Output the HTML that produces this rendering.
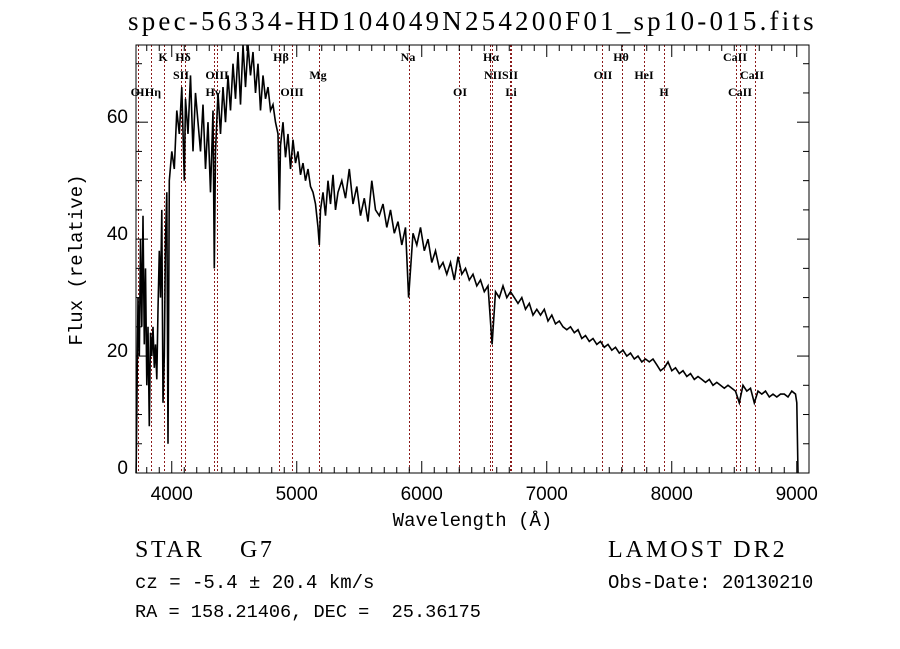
<!DOCTYPE html>
<html><head><meta charset="utf-8"><style>
body{margin:0;background:#fff;width:900px;height:649px;overflow:hidden}
svg{display:block}
.ser{font-family:"Liberation Serif",serif}
.mono{font-family:"Liberation Mono",monospace}
.sans{font-family:"Liberation Sans",sans-serif}
</style></head><body>
<svg id="chart" width="900" height="649"></svg>
<script>
const waves=[3715,3720,3730,3740,3750,3760,3770,3780,3790,3800,3810,3820,3830,3840,3850,3860,3870,3880,3890,3900,3910,3920,3930,3940,3950,3960,3970,3980,4000,4020,4040,4060,4080,4100,4110,4130,4150,4170,4190,4210,4230,4250,4270,4290,4310,4330,4340,4350,4370,4390,4410,4430,4450,4470,4490,4510,4530,4550,4570,4590,4610,4630,4650,4670,4690,4710,4730,4750,4770,4790,4810,4830,4850,4861,4870,4890,4910,4930,4950,4970,4990,5010,5030,5050,5070,5090,5110,5130,5150,5170,5180,5190,5210,5230,5250,5270,5290,5310,5330,
5360,5390,5420,5450,5480,5510,5540,5570,5600,5630,5660,5690,5720,5750,5780,5810,5840,5870,5895,5930,5960,5990,6020,6050,6080,6110,6140,6170,6200,6230,6260,6290,6320,6350,6380,6410,6440,6470,6500,6530,6563,6590,6620,6650,6680,6710,6740,6770,6800,6830,6860,6890,6920,6950,6980,7010,7040,7070,7100,7130,7160,7190,7220,7250,7280,7310,7340,7370,7400,7430,7460,7490,7520,7550,7580,7610,7640,7670,7700,7730,7760,7790,7820,7850,7880,7910,7940,7970,8000,8030,8060,8090,8120,8150,8180,8210,8240,8270,8300,8330,8360,8390,8420,8450,8480,8510,8540,8570,8600,8630,8660,8690,8720,8750,8780,8810,8840,8870,8900,8930,8960,8990,9000,9010];
const flux=[0,10,30,20,40,25,44,22,35,15,25,8,24,20,25,18,22,16,28,38,30,45,12,20,40,48,5,50,55,52,62,58,66,50,64,58,68,55,65,60,55,63,52,60,48,62,35,55,65,58,66,60,68,62,70,64,72,63,74,66,75,68,72,65,70,62,68,64,66,62,63,60,58,45,56,60,54,58,52,57,53,55,51,53,50,52,49,48,46,42,39,45,48,44,50,46,51,45,48,
50,47,52,46,49,44,47,43,50,45,44,46,42,45,41,43,39,42,30,41,39,42,38,40,36,38,35,36,34,36,33,37,34,35,33,34,32,33,31,32,22,31,30,32,30,31,30,29,30,28,29,27,28,27,28,26,27,25.5,26,25,24.5,25,24,24.5,23,23.5,22.5,23,22,22.5,21.5,22,21,21.5,20.5,21,20,20.5,19.5,20,19,19.5,19,19.5,18.5,17.5,18,19,17.5,18,17,17.5,16.5,17,16,16.5,16,15.5,16,15,15.5,15,14.5,15,14.5,14,12,15,14,14.5,12,14,13.5,14,13,13.5,13,13.5,13.5,13,14,13.5,12,0];
const lineWaves=[3727,3835,3934,4072,4102,4341,4363,4861,4959,5175,5894,6300,6548,6563,6707,6717,7444,7604,7780,7935,8510,8546,8666];
const labelText=["K","Hδ","Hβ","Na","Hα","Hθ","CaII","SII","OIII","Mg","NIISII","OII","HeI","CaII","OII","Hη","Hγ","OIII","OI","Li","H","CaII"];
const labelX=[163,183,281,408,491,621,735,181,217,318,501,603,644,752,140,153,213,292,460,511,664,740];
const labelRow=[0,0,0,0,0,0,0,1,1,1,1,1,1,1,2,2,2,2,2,2,2,2];
const xTicks=[4000,5000,6000,7000,8000,9000];
const yTicks=[0,20,40,60];

const L=136,R=809,T=45,B=473,XMIN=3714,XMAX=9098,YMIN=0,YMAX=73.2;
const sx=w=>L+(w-XMIN)/(XMAX-XMIN)*(R-L);
const sy=v=>B-(v-YMIN)/(YMAX-YMIN)*(B-T);
const svg=document.getElementById('chart');
const NS='http://www.w3.org/2000/svg';
function mk(tag,attrs,parent){const e=document.createElementNS(NS,tag);for(const k in attrs)e.setAttribute(k,attrs[k]);(parent||svg).appendChild(e);return e;}

lineWaves.forEach(w=>{const x=Math.round(sx(w))+0.5;const l=mk('line',{x1:x,x2:x,y1:T,y2:B,stroke:'#8b1a1a','stroke-width':1,'stroke-dasharray':'2,2'});

});
let d='';waves.forEach((w,i)=>{const y=Math.max(T,sy(flux[i]));d+=(i?'L':'M')+sx(w).toFixed(1)+','+y.toFixed(1);});
const p=mk('path',{d:d,fill:'none',stroke:'#000','stroke-width':1.6,'stroke-linejoin':'miter'});


const fr=mk('rect',{x:L,y:T,width:R-L,height:B-T,fill:'none',stroke:'#000','stroke-width':1});


for(let w=3800;w<=9000;w+=100){const maj=w%1000===0;const len=maj?12:6;
mk('line',{x1:sx(w),x2:sx(w),y1:B,y2:B-len,stroke:'#000'});mk('line',{x1:sx(w),x2:sx(w),y1:T,y2:T+len,stroke:'#000'});}
xTicks.forEach(w=>{const t=mk('text',{x:sx(w),y:B+27,'text-anchor':'middle','font-size':19,class:'sans'});t.textContent=w;

});
for(let v=0;v<=70;v+=5){const maj=v%20===0;const len=maj?12:6;
mk('line',{x1:L,x2:L+len,y1:sy(v),y2:sy(v),stroke:'#000'});mk('line',{x1:R,x2:R-len,y1:sy(v),y2:sy(v),stroke:'#000'});}
yTicks.forEach(v=>{const t=mk('text',{x:L-8,y:sy(v)+1,'text-anchor':'end','font-size':19,class:'sans'});t.textContent=v;

});
const rowsY=[61,79,96];
labelText.forEach((s,i)=>{const t=mk('text',{x:labelX[i],y:rowsY[labelRow[i]],'text-anchor':'middle','font-size':12,'font-weight':'bold',class:'ser'});t.textContent=s;

});
</script>
<div style="position:absolute;left:0;top:0;width:900px;height:649px;pointer-events:none">
<div class="ser" style="position:absolute;left:128px;top:6px;font-size:27px;letter-spacing:3.2px;white-space:pre">spec-56334-HD104049N254200F01_sp10-015.fits</div>
<div class="mono" style="position:absolute;left:0;width:945px;top:510px;text-align:center;font-size:19px">Wavelength (Å)</div>
<div class="mono" style="position:absolute;left:-12px;top:248px;width:180px;text-align:center;font-size:19px;transform:rotate(-90deg);transform-origin:90px 12px">Flux (relative)</div>
<div class="ser" style="position:absolute;left:135px;top:537px;font-size:24px;letter-spacing:2.5px;white-space:pre">STAR</div>
<div class="ser" style="position:absolute;left:240px;top:537px;font-size:24px;letter-spacing:2.5px;white-space:pre">G7</div>
<div class="mono" style="position:absolute;left:135px;top:572px;font-size:19px;white-space:pre">cz = -5.4 ± 20.4 km/s</div>
<div class="mono" style="position:absolute;left:135px;top:602px;font-size:18.6px;white-space:pre">RA = 158.21406, DEC =  25.36175</div>
<div class="ser" style="position:absolute;left:608px;top:537px;font-size:24px;letter-spacing:3px">LAMOST DR2</div>
<div class="mono" style="position:absolute;left:608px;top:572px;font-size:19px">Obs-Date: 20130210</div>
</div>
</body></html>
